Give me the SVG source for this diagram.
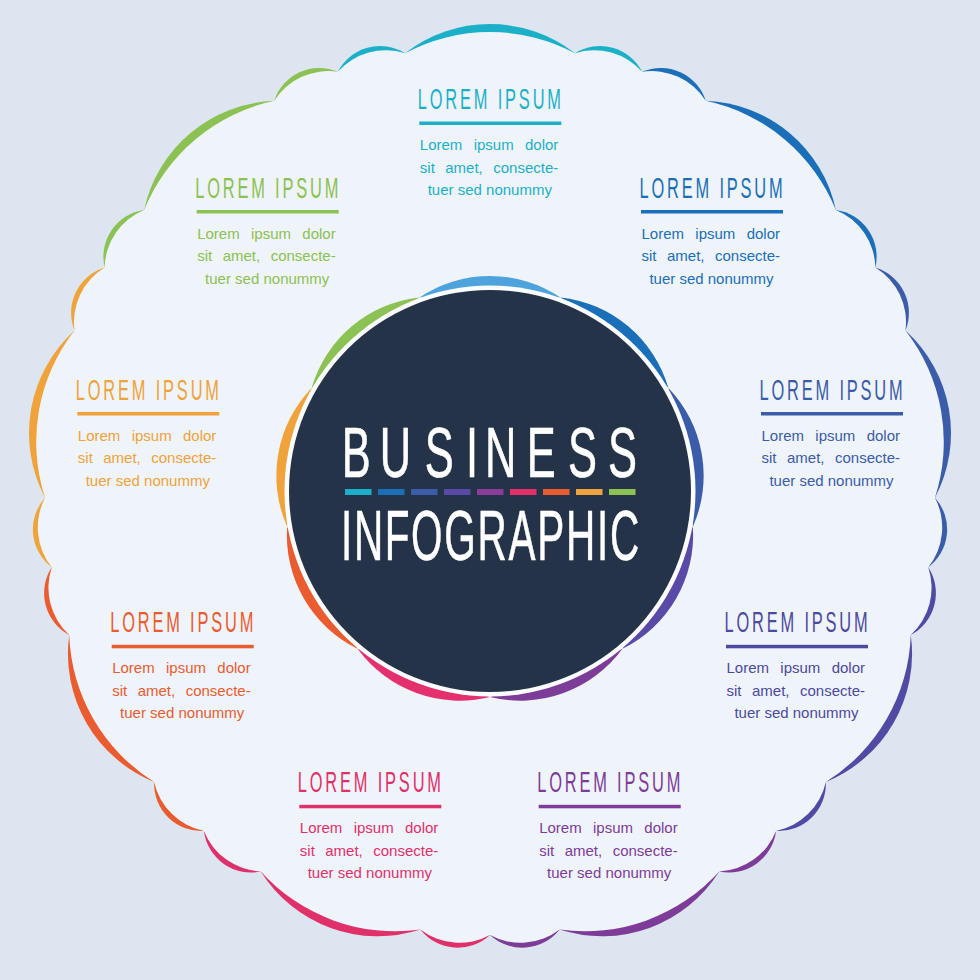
<svg xmlns="http://www.w3.org/2000/svg" width="980" height="980" viewBox="0 0 980 980">
<style>
.h{font-family:"Liberation Sans",Arial,sans-serif;font-size:29px}
.p{font-family:"Liberation Sans",Arial,sans-serif;font-size:15px}
.l1{word-spacing:7.15px}
.l2{word-spacing:6.3px}
.fill{fill:#eff4fa}
.big{font-family:"Liberation Sans",Arial,sans-serif;font-size:70px;fill:#ffffff;stroke:#ffffff;stroke-width:0.6}
</style>
<defs>
<path id="bigC" d="M -84.91 -436.83 A 138.2 138.2 0 0 1 84.91 -436.83 Z"/>
<path id="smallL" d="M -152.2 -418.16 A 47.3 47.3 0 0 1 -84.91 -436.83 Z"/>
<path id="smallR" d="M 84.91 -436.83 A 47.3 47.3 0 0 1 152.2 -418.16 Z"/>
<path id="sector" d="M 0 0 L -152.2 -418.16 A 63.95 63.95 0 0 1 -84.91 -436.83 A 180.9 180.9 0 0 1 84.91 -436.83 A 63.95 63.95 0 0 1 152.2 -418.16 Z"/>
<path id="petal" d="M -70.46 -193.58 A 126.6 126.6 0 0 1 70.46 -193.58 Z"/>
<g id="sec"><use href="#smallL"/><use href="#bigC"/><use href="#smallR"/></g>
</defs>
<rect x="0" y="0" width="980" height="980" fill="#dde6f0"/>
<g id="ring">
<g transform="translate(490 490) rotate(0)" fill="#1cb0c8"><use href="#sec"/></g>
<g transform="translate(490 490) rotate(40)" fill="#1b6fb8"><use href="#sec"/></g>
<g transform="translate(490 490) rotate(80)" fill="#3b5ca8"><use href="#sec"/></g>
<g transform="translate(490 490) rotate(120)" fill="#4f4aa4"><use href="#sec"/></g>
<g transform="translate(490 490) rotate(160)" fill="#7d3c98"><use href="#sec"/></g>
<g transform="translate(490 490) rotate(200)" fill="#e0306a"><use href="#sec"/></g>
<g transform="translate(490 490) rotate(240)" fill="#ea5b2f"><use href="#sec"/></g>
<g transform="translate(490 490) rotate(280)" fill="#f0a23b"><use href="#sec"/></g>
<g transform="translate(490 490) rotate(320)" fill="#8cc153"><use href="#sec"/></g>
</g>
<g id="body" class="fill">
<use href="#sector" transform="translate(490 490) rotate(0)"/>
<use href="#sector" transform="translate(490 490) rotate(40)"/>
<use href="#sector" transform="translate(490 490) rotate(80)"/>
<use href="#sector" transform="translate(490 490) rotate(120)"/>
<use href="#sector" transform="translate(490 490) rotate(160)"/>
<use href="#sector" transform="translate(490 490) rotate(200)"/>
<use href="#sector" transform="translate(490 490) rotate(240)"/>
<use href="#sector" transform="translate(490 490) rotate(280)"/>
<use href="#sector" transform="translate(490 490) rotate(320)"/>
<circle cx="490" cy="490" r="436"/>
</g>
<g id="petals">
<use href="#petal" transform="translate(490 491) rotate(0)" fill="#4fa3dc"/>
<use href="#petal" transform="translate(490 491) rotate(40)" fill="#1b6fb8"/>
<use href="#petal" transform="translate(490 491) rotate(80)" fill="#3b5ca8"/>
<use href="#petal" transform="translate(490 491) rotate(120)" fill="#5a4aa8"/>
<use href="#petal" transform="translate(490 491) rotate(160)" fill="#7d3c98"/>
<use href="#petal" transform="translate(490 491) rotate(200)" fill="#e4306c"/>
<use href="#petal" transform="translate(490 491) rotate(240)" fill="#ea5b2f"/>
<use href="#petal" transform="translate(490 491) rotate(280)" fill="#f0a23b"/>
<use href="#petal" transform="translate(490 491) rotate(320)" fill="#8cc153"/>
</g>
<g id="center">
<circle cx="490" cy="491" r="205.5" fill="#fafcfe"/>
<circle cx="490" cy="491" r="201" fill="#253349"/>
<text class="big" transform="scale(0.62 1)" x="551.3 612.7 685 751.6 782.3 849.4 916.1 980.6" y="476.7">BUSINESS</text>
<rect x="345" y="489" width="26.5" height="6" fill="#1cb0c8"/>
<rect x="378" y="489" width="26.5" height="6" fill="#1b6fb8"/>
<rect x="411" y="489" width="26.5" height="6" fill="#3b5ca8"/>
<rect x="444" y="489" width="26.5" height="6" fill="#5a4aa8"/>
<rect x="477" y="489" width="26.5" height="6" fill="#8a3b9b"/>
<rect x="510" y="489" width="26.5" height="6" fill="#e3306b"/>
<rect x="543" y="489" width="26.5" height="6" fill="#ea5b2f"/>
<rect x="576" y="489" width="26.5" height="6" fill="#f0a23b"/>
<rect x="609" y="489" width="26.5" height="6" fill="#8cc153"/>
<text class="big" transform="translate(341 560) scale(0.578 1)" x="0 22.5 75.5 121.3 178.8 236.3 289.9 339.6 389.3 442.8 465.3" y="0">INFOGRAPHIC</text>
</g>
<g id="node-1" fill="#1cb0c8">
<text class="h" transform="translate(417.8 109) scale(0.566 1)" x="0 21.12 48.68 74.62 98.96 128.12 141.18 154.24 178.58 202.92 228.86" y="0">LOREM IPSUM</text>
<rect x="419.3" y="121.5" width="142" height="3.5"/>
<text class="p l1" x="419.8" y="150">Lorem ipsum dolor</text>
<text class="p l2" x="419.8" y="172.5">sit amet, consecte-</text>
<text class="p" x="489.8" y="195" text-anchor="middle">tuer sed nonummy</text>
</g>
<g id="node-2" fill="#1b6fb8">
<text class="h" transform="translate(639.5 197.5) scale(0.566 1)" x="0 21.12 48.68 74.62 98.96 128.12 141.18 154.24 178.58 202.92 228.86" y="0">LOREM IPSUM</text>
<rect x="641" y="210" width="142" height="3.5"/>
<text class="p l1" x="641.5" y="238.5">Lorem ipsum dolor</text>
<text class="p l2" x="641.5" y="261">sit amet, consecte-</text>
<text class="p" x="711.5" y="283.5" text-anchor="middle">tuer sed nonummy</text>
</g>
<g id="node-3" fill="#3b5ca8">
<text class="h" transform="translate(759.5 399.5) scale(0.566 1)" x="0 21.12 48.68 74.62 98.96 128.12 141.18 154.24 178.58 202.92 228.86" y="0">LOREM IPSUM</text>
<rect x="761" y="412" width="142" height="3.5"/>
<text class="p l1" x="761.5" y="440.5">Lorem ipsum dolor</text>
<text class="p l2" x="761.5" y="463">sit amet, consecte-</text>
<text class="p" x="831.5" y="485.5" text-anchor="middle">tuer sed nonummy</text>
</g>
<g id="node-4" fill="#4c4a9e">
<text class="h" transform="translate(724.5 632.3) scale(0.566 1)" x="0 21.12 48.68 74.62 98.96 128.12 141.18 154.24 178.58 202.92 228.86" y="0">LOREM IPSUM</text>
<rect x="726" y="644.8" width="142" height="3.5"/>
<text class="p l1" x="726.5" y="673.3">Lorem ipsum dolor</text>
<text class="p l2" x="726.5" y="695.8">sit amet, consecte-</text>
<text class="p" x="796.5" y="718.3" text-anchor="middle">tuer sed nonummy</text>
</g>
<g id="node-5" fill="#7d3c98">
<text class="h" transform="translate(537.2 792.3) scale(0.566 1)" x="0 21.12 48.68 74.62 98.96 128.12 141.18 154.24 178.58 202.92 228.86" y="0">LOREM IPSUM</text>
<rect x="538.7" y="804.8" width="142" height="3.5"/>
<text class="p l1" x="539.2" y="833.3">Lorem ipsum dolor</text>
<text class="p l2" x="539.2" y="855.8">sit amet, consecte-</text>
<text class="p" x="609.2" y="878.3" text-anchor="middle">tuer sed nonummy</text>
</g>
<g id="node-6" fill="#e0306a">
<text class="h" transform="translate(297.8 792.3) scale(0.566 1)" x="0 21.12 48.68 74.62 98.96 128.12 141.18 154.24 178.58 202.92 228.86" y="0">LOREM IPSUM</text>
<rect x="299.3" y="804.8" width="142" height="3.5"/>
<text class="p l1" x="299.8" y="833.3">Lorem ipsum dolor</text>
<text class="p l2" x="299.8" y="855.8">sit amet, consecte-</text>
<text class="p" x="369.8" y="878.3" text-anchor="middle">tuer sed nonummy</text>
</g>
<g id="node-7" fill="#ea5b2f">
<text class="h" transform="translate(110.2 632.3) scale(0.566 1)" x="0 21.12 48.68 74.62 98.96 128.12 141.18 154.24 178.58 202.92 228.86" y="0">LOREM IPSUM</text>
<rect x="111.7" y="644.8" width="142" height="3.5"/>
<text class="p l1" x="112.2" y="673.3">Lorem ipsum dolor</text>
<text class="p l2" x="112.2" y="695.8">sit amet, consecte-</text>
<text class="p" x="182.2" y="718.3" text-anchor="middle">tuer sed nonummy</text>
</g>
<g id="node-8" fill="#f0a23b">
<text class="h" transform="translate(75.8 399.5) scale(0.566 1)" x="0 21.12 48.68 74.62 98.96 128.12 141.18 154.24 178.58 202.92 228.86" y="0">LOREM IPSUM</text>
<rect x="77.3" y="412" width="142" height="3.5"/>
<text class="p l1" x="77.8" y="440.5">Lorem ipsum dolor</text>
<text class="p l2" x="77.8" y="463">sit amet, consecte-</text>
<text class="p" x="147.8" y="485.5" text-anchor="middle">tuer sed nonummy</text>
</g>
<g id="node-9" fill="#8cc153">
<text class="h" transform="translate(195.2 197.5) scale(0.566 1)" x="0 21.12 48.68 74.62 98.96 128.12 141.18 154.24 178.58 202.92 228.86" y="0">LOREM IPSUM</text>
<rect x="196.7" y="210" width="142" height="3.5"/>
<text class="p l1" x="197.2" y="238.5">Lorem ipsum dolor</text>
<text class="p l2" x="197.2" y="261">sit amet, consecte-</text>
<text class="p" x="267.2" y="283.5" text-anchor="middle">tuer sed nonummy</text>
</g>
</svg>
